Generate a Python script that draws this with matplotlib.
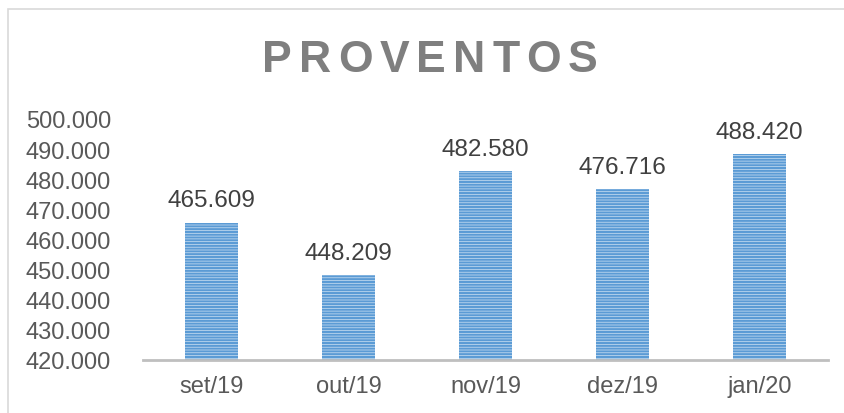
import matplotlib.pyplot as plt
from matplotlib.patches import Rectangle

# dados do gráfico
meses = ["set/19", "out/19", "nov/19", "dez/19", "jan/20"]
valores = [465.609, 448.209, 482.580, 476.716, 488.420]
rotulos = ["465.609", "448.209", "482.580", "476.716", "488.420"]
yticks = [420, 430, 440, 450, 460, 470, 480, 490, 500]
titulo = "PROVENTOS"

plt.rcParams['font.family'] = ['Liberation Sans', 'DejaVu Sans']
plt.rcParams['hatch.linewidth'] = 1.5
plt.rcParams['hatch.color'] = '#5b9bd5'

fig = plt.figure(figsize=(8.44, 4.14), dpi=100)
ax = fig.add_axes([143 / 844, 1 - 361 / 414, 685 / 844, 241 / 414])

bars = ax.bar(range(len(meses)), valores, width=0.38, bottom=0,
              color='#cfe2f3', edgecolor='#5b9bd5', hatch='------', linewidth=0)

ax.set_ylim(420, 500)
ax.set_xlim(-0.5, len(meses) - 0.5)
ax.set_yticks(yticks)
ax.set_yticklabels(["%d.000" % v for v in yticks])
ax.set_xticks(range(len(meses)))
ax.set_xticklabels(meses)
ax.tick_params(axis='both', length=0, labelsize=17, colors='#595959')
ax.tick_params(axis='y', pad=23)
ax.tick_params(axis='x', pad=11)

for s in ['top', 'right', 'left']:
    ax.spines[s].set_visible(False)
ax.spines['bottom'].set_color('#bfbfbf')
ax.spines['bottom'].set_linewidth(2)

for i, v in enumerate(valores):
    ax.annotate(rotulos[i], (i, v), xytext=(0, 8), textcoords='offset points',
                ha='center', va='bottom', fontsize=17.5, color='#404040',
                annotation_clip=False)

# título com espaçamento entre letras
renderer = fig.canvas.get_renderer()
gap = 7  # px
letras = []
x = 0
for c in titulo:
    t = fig.text(0, 1 - 60 / 414, c, ha='left', va='center',
                 fontsize=32, fontweight='bold', color='#7f7f7f')
    w = t.get_window_extent(renderer).width
    letras.append((t, x))
    x += w + gap
total = x - gap
x0 = 430 - total / 2
for t, dx in letras:
    t.set_x((x0 + dx) / 844)

# moldura (só topo e esquerda aparecem)
fig.patches.append(Rectangle((8 / 844, -0.1), 1.0, 1 - 10 / 414 + 0.1,
                             transform=fig.transFigure, fill=False,
                             edgecolor='#d9d9d9', linewidth=1.2))

fig.savefig("out.png", dpi=100)
